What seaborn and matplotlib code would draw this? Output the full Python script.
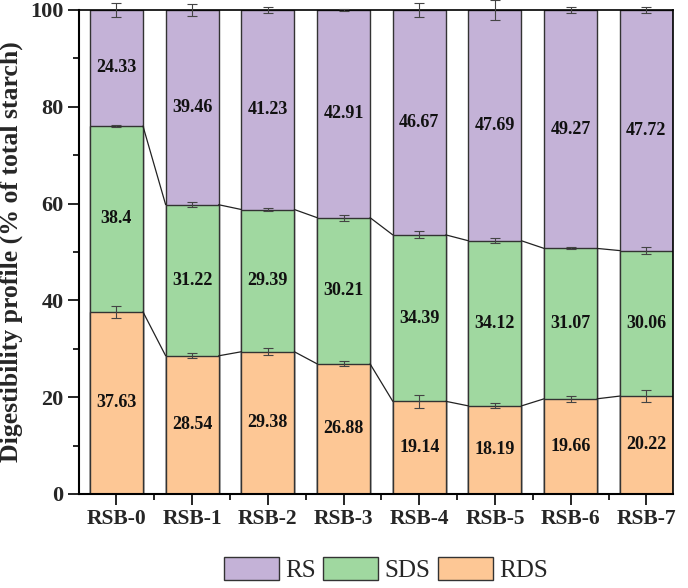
import numpy as np
import pandas as pd
import matplotlib
matplotlib.use("Agg")
import matplotlib.pyplot as plt
import seaborn as sns
from matplotlib.patches import Patch

sns.set_theme(style="ticks")
plt.rcParams['font.family'] = ['Liberation Serif', 'DejaVu Serif']

samples = ["RSB-0", "RSB-1", "RSB-2", "RSB-3", "RSB-4", "RSB-5", "RSB-6", "RSB-7"]
rds = [37.63, 28.54, 29.38, 26.88, 19.14, 18.19, 19.66, 20.22]
sds = [38.4, 31.22, 29.39, 30.21, 34.39, 34.12, 31.07, 30.06]
rs = [24.33, 39.46, 41.23, 42.91, 46.67, 47.69, 49.27, 47.72]
rds_err = [1.2, 0.5, 0.7, 0.5, 1.3, 0.5, 0.6, 1.2]
sds_err = [0.3, 0.5, 0.3, 0.6, 0.7, 0.5, 0.2, 0.7]
rs_err = [1.5, 1.2, 0.6, 0.2, 1.5, 2.0, 0.6, 0.6]
total_pct = 100.0  # profile expressed as % of total starch

c_rs = "#C4B2D7"
c_sds = "#A0D8A0"
c_rds = "#FDC795"
edge = "#333333"

df = pd.DataFrame({"sample": samples, "RDS": rds, "SDS": sds, "RS": rs})
df["cum_sds"] = df["RDS"] + df["SDS"]
df["total"] = total_pct

fig = plt.figure(figsize=(6.88, 5.88), dpi=100)
ax = fig.add_axes([0.1148, 0.16, 0.978 - 0.1148, 0.983 - 0.16])

bw = 0.7
for col, c in [("total", c_rs), ("cum_sds", c_sds), ("RDS", c_rds)]:
    sns.barplot(data=df, x="sample", y=col, color=c, width=bw, edgecolor=edge,
                linewidth=1.0, saturation=1, ax=ax, zorder=2)

x = np.arange(len(samples))
tops_rds = df["RDS"].to_numpy()
tops_sds = df["cum_sds"].to_numpy()
tops_rs = df["total"].to_numpy()

for tops, err, link in [(tops_rds, rds_err, True), (tops_sds, sds_err, True), (tops_rs, rs_err, False)]:
    ax.errorbar(x, tops, yerr=err, fmt="none", ecolor="#444444", elinewidth=0.8,
                capsize=3.7, capthick=0.8, zorder=4, clip_on=False)
    if link:
        for i in range(len(x) - 1):
            ax.plot([x[i] + bw / 2, x[i + 1] - bw / 2], [tops[i], tops[i + 1]],
                    color="#222222", lw=0.9, zorder=3)

mid_rds = tops_rds / 2
mid_sds = (tops_rds + tops_sds) / 2
mid_rs = (tops_sds + tops_rs) / 2
for i in range(len(x)):
    for yv, val in [(mid_rds[i], rds[i]), (mid_sds[i], sds[i]), (mid_rs[i], rs[i])]:
        ax.text(x[i], yv, f"{val}", ha="center", va="center",
                fontsize=13, fontweight="bold", color="#111111", zorder=5)

ax.set_xlim(-0.495, 7.35)
ax.set_ylim(0, 100)
ax.set_yticks([0, 20, 40, 60, 80, 100])
ax.set_yticks([10, 30, 50, 70, 90], minor=True)
ax.set_xticks(x)
ax.set_xticks(x[:-1] + 0.5, minor=True)
ax.set_xticklabels(samples, fontsize=15.5, fontweight="bold")
for lbl in ax.get_yticklabels():
    lbl.set_fontsize(16)
    lbl.set_fontweight("bold")
ax.tick_params(axis="both", which="major", direction="out", length=8, width=1.2,
               color="black", pad=3)
ax.tick_params(axis="both", which="minor", direction="out", length=4.5, width=1.2, color="black")
ax.set_xlabel("")
ax.set_ylabel("Digestibility profile (% of total starch)", fontsize=18.5, fontweight="bold", labelpad=5)
for s in ax.spines.values():
    s.set_visible(True)
    s.set_color("black")
    s.set_linewidth(1.2)
ax.spines["left"].set_linewidth(1.5)
ax.spines["bottom"].set_linewidth(1.5)

handles = [Patch(facecolor=c_rs, edgecolor=edge, label="RS"),
           Patch(facecolor=c_sds, edgecolor=edge, label="SDS"),
           Patch(facecolor=c_rds, edgecolor=edge, label="RDS")]
fig.legend(handles=handles, loc="center", bbox_to_anchor=(0.561, 0.031), ncol=3,
           frameon=False, fontsize=18, handlelength=2.2, handleheight=1.0,
           handletextpad=0.25, columnspacing=0.3, borderpad=0.1)

fig.savefig("out.png", dpi=100)
